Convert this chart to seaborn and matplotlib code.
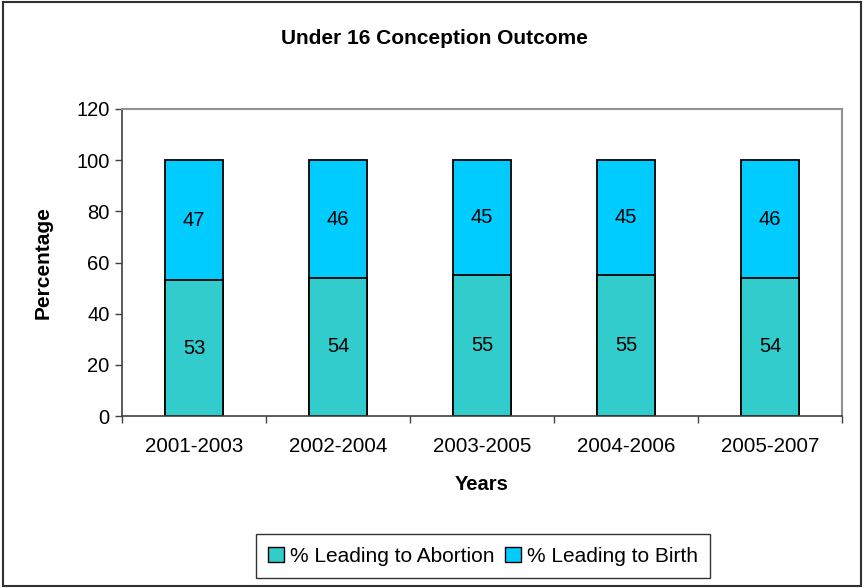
import matplotlib
matplotlib.use("Agg")
import matplotlib.pyplot as plt
from matplotlib.patches import Patch, Rectangle
import pandas as pd
import seaborn as sns

# data
years = ["2001-2003", "2002-2004", "2003-2005", "2004-2006", "2005-2007"]
abortion = [53, 54, 55, 55, 54]
birth = [47, 46, 45, 45, 46]

col_abortion = "#33CCCC"
col_birth = "#00CCFF"

sns.set_style("white")
plt.rcParams["font.family"] = ["Liberation Sans", "DejaVu Sans"]
plt.rcParams["text.color"] = "black"
plt.rcParams["axes.labelcolor"] = "black"
plt.rcParams["xtick.labelcolor"] = "black"
plt.rcParams["ytick.labelcolor"] = "black"

df = pd.DataFrame({"Years": years, "abortion": abortion, "birth": birth})
df["total"] = df["abortion"] + df["birth"]

fig = plt.figure(figsize=(8.64, 5.88), dpi=100)
ax = fig.add_axes([122 / 864, 1 - 416 / 588, 720 / 864, 307 / 588])

# stacked bars: total first (birth colour), abortion over it
sns.barplot(data=df, x="Years", y="total", color=col_birth, saturation=1,
            width=0.4, edgecolor="black", linewidth=1.3, ax=ax)
sns.barplot(data=df, x="Years", y="abortion", color=col_abortion, saturation=1,
            width=0.4, edgecolor="black", linewidth=1.3, ax=ax)

# labels in the middle of each segment
for i in range(len(years)):
    ax.text(i, abortion[i] / 2, str(abortion[i]), ha="center", va="center", fontsize=14.5)
    ax.text(i, abortion[i] + birth[i] / 2, str(birth[i]), ha="center", va="center", fontsize=14.5)

ax.set_ylim(0, 120)
ax.set_yticks(range(0, 121, 20))
ax.set_xlim(-0.5, len(years) - 0.5)
ax.set_xticks(range(len(years)))
ax.set_xticks([i - 0.5 for i in range(len(years) + 1)], minor=True)
ax.tick_params(axis="x", which="major", length=0, labelsize=14.8, pad=15)
ax.tick_params(axis="x", which="minor", length=5, width=1, color="#404040", direction="out")
ax.tick_params(axis="y", length=5, width=1, color="#404040", direction="out", labelsize=14.5, pad=4)
ax.yaxis.set_ticks_position("left")
ax.xaxis.set_ticks_position("bottom")

for s in ["left", "bottom"]:
    ax.spines[s].set_color("#404040")
    ax.spines[s].set_linewidth(1.2)
for s in ["top", "right"]:
    ax.spines[s].set_color("#909090")
    ax.spines[s].set_linewidth(1.5)

ax.set_xlabel("Years", fontsize=14.5, fontweight="bold", labelpad=14)
ax.set_ylabel("Percentage", fontsize=15, fontweight="bold", labelpad=17)
fig.text(434 / 864, 1 - 38 / 588, "Under 16 Conception Outcome", ha="center", va="center",
         fontsize=15, fontweight="bold")

handles = [Patch(facecolor=col_abortion, edgecolor="black", label="% Leading to Abortion"),
           Patch(facecolor=col_birth, edgecolor="black", label="% Leading to Birth")]
leg = fig.legend(handles=handles, loc="center", bbox_to_anchor=(483 / 864, 1 - 556 / 588),
                 ncol=2, frameon=True, fancybox=False, fontsize=15, handlelength=0.75,
                 handleheight=0.75, handletextpad=0.3, columnspacing=0.5,
                 borderpad=0.6, edgecolor="black")
leg.get_frame().set_linewidth(1.0)

# outer border of the chart
fig.patches.append(Rectangle((0.003, 0.003), 0.994, 0.994, transform=fig.transFigure,
                             fill=False, edgecolor="#303030", linewidth=1.5))

fig.savefig("out.png", dpi=100)
